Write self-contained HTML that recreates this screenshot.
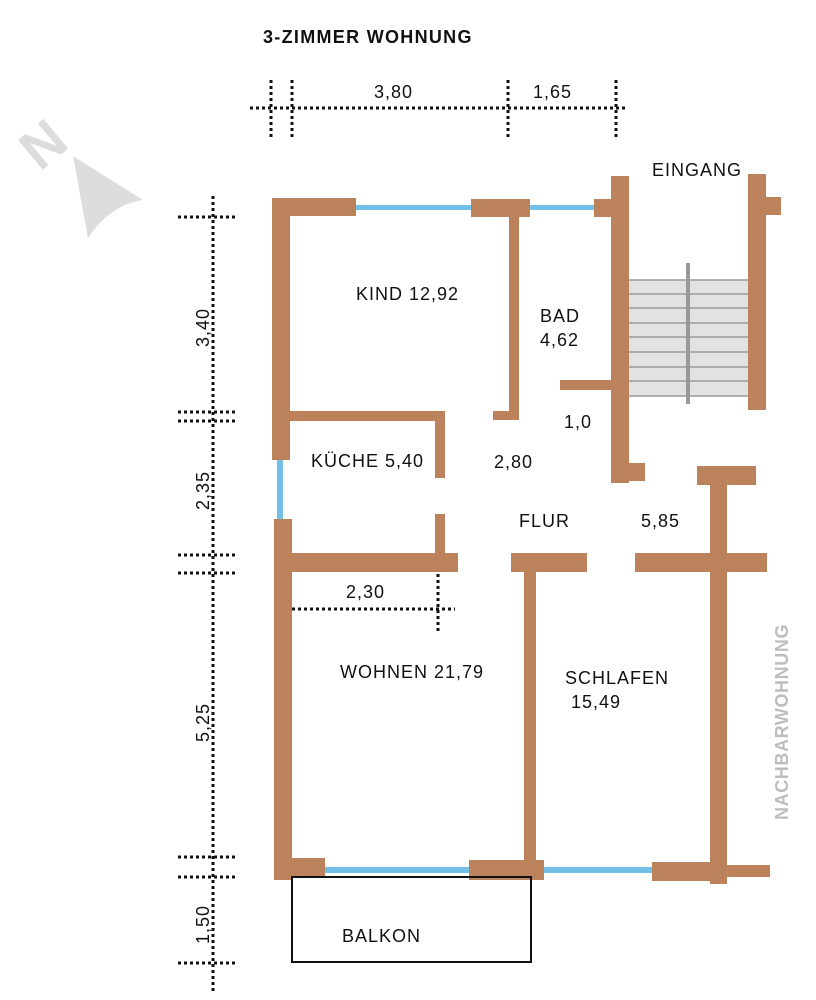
<!DOCTYPE html>
<html><head><meta charset="utf-8"><style>
html,body{margin:0;padding:0;background:#fff;}
svg{display:block;}
text{font-family:"Liberation Sans",sans-serif;fill:#111;font-size:18px;letter-spacing:1px;}
</style></head><body>
<svg width="816" height="1000" viewBox="0 0 816 1000" xmlns="http://www.w3.org/2000/svg">
<rect width="816" height="1000" fill="#fff"/>
<text x="263" y="43" style="font-weight:bold;font-size:18px;letter-spacing:1.3px">3-ZIMMER WOHNUNG</text>

<!-- north arrow -->
<text transform="translate(40,172) rotate(-40)" style="fill:#dcdcdc;font-size:56px;font-weight:bold;letter-spacing:0">N</text>
<path d="M73 156 L143 200 Q110 205 88 238 Z" fill="#dddddd"/>

<!-- dims -->
<g stroke="#111" stroke-width="3" stroke-dasharray="3 3" fill="none">
<line x1="250" y1="108" x2="625" y2="108"/>
<line x1="271" y1="80" x2="271" y2="140"/>
<line x1="292" y1="80" x2="292" y2="140"/>
<line x1="508" y1="80" x2="508" y2="140"/>
<line x1="616" y1="80" x2="616" y2="140"/>
<line x1="213" y1="196" x2="213" y2="992"/>
<line x1="178" y1="217" x2="238" y2="217"/>
<line x1="178" y1="412" x2="238" y2="412"/>
<line x1="178" y1="421" x2="238" y2="421"/>
<line x1="178" y1="555" x2="238" y2="555"/>
<line x1="178" y1="573" x2="238" y2="573"/>
<line x1="178" y1="857" x2="238" y2="857"/>
<line x1="178" y1="877" x2="238" y2="877"/>
<line x1="178" y1="963" x2="238" y2="963"/>
<line x1="292" y1="609" x2="455" y2="609"/>
<line x1="438" y1="574" x2="438" y2="632"/>
</g>
<text x="374" y="98">3,80</text>
<text x="533" y="98">1,65</text>
<text x="346" y="598">2,30</text>
<text transform="translate(209,347) rotate(-90)">3,40</text>
<text transform="translate(209,510) rotate(-90)">2,35</text>
<text transform="translate(209,742) rotate(-90)">5,25</text>
<text transform="translate(209,944) rotate(-90)">1,50</text>

<!-- stairs -->
<rect x="629" y="280" width="119" height="116" fill="#e2e2e2"/>
<g stroke="#999" stroke-width="1.5">
<line x1="629" y1="280" x2="748" y2="280"/><line x1="629" y1="294" x2="748" y2="294"/>
<line x1="629" y1="308" x2="748" y2="308"/><line x1="629" y1="323" x2="748" y2="323"/>
<line x1="629" y1="337" x2="748" y2="337"/><line x1="629" y1="352" x2="748" y2="352"/>
<line x1="629" y1="367" x2="748" y2="367"/><line x1="629" y1="381" x2="748" y2="381"/>
<line x1="629" y1="396" x2="748" y2="396"/>
</g>
<rect x="686" y="263" width="4" height="141" fill="#999"/>

<!-- windows -->
<g fill="#72bfe8">
<rect x="350" y="205" width="125" height="5"/>
<rect x="525" y="205" width="72" height="5"/>
<rect x="277" y="455" width="6" height="68"/>
<rect x="320" y="867" width="152" height="6"/>
<rect x="540" y="867" width="115" height="6"/>
</g>

<!-- walls -->
<g fill="#bb825c">
<rect x="274" y="198" width="82" height="18"/>
<rect x="272" y="198" width="18" height="262"/>
<rect x="471" y="199" width="59" height="18"/>
<rect x="509" y="217" width="10" height="203"/>
<rect x="493" y="411" width="26" height="9"/>
<rect x="594" y="199" width="18" height="18"/>
<rect x="611" y="176" width="18" height="307"/>
<rect x="629" y="463" width="16" height="18"/>
<rect x="560" y="380" width="51" height="10"/>
<rect x="748" y="174" width="18" height="236"/>
<rect x="766" y="197" width="15" height="18"/>
<rect x="290" y="411" width="155" height="10"/>
<rect x="435" y="411" width="10" height="67"/>
<rect x="435" y="514" width="10" height="40"/>
<rect x="274" y="519" width="18" height="361"/>
<rect x="290" y="553" width="168" height="19"/>
<rect x="511" y="553" width="76" height="19"/>
<rect x="524" y="572" width="12" height="290"/>
<rect x="635" y="553" width="132" height="19"/>
<rect x="697" y="466" width="59" height="19"/>
<rect x="710" y="485" width="17" height="399"/>
<rect x="274" y="858" width="51" height="19"/>
<rect x="469" y="860" width="75" height="20"/>
<rect x="652" y="862" width="75" height="19"/>
<rect x="727" y="865" width="43" height="12"/>
</g>
<rect x="292" y="877" width="239" height="85" fill="none" stroke="#111" stroke-width="2"/>

<!-- labels -->
<text x="652" y="176">EINGANG</text>
<text x="356" y="300">KIND 12,92</text>
<text x="540" y="322">BAD</text>
<text x="540" y="346">4,62</text>
<text x="564" y="428">1,0</text>
<text x="494" y="468">2,80</text>
<text x="311" y="467">KÜCHE 5,40</text>
<text x="519" y="527">FLUR</text>
<text x="641" y="527">5,85</text>
<text x="340" y="678">WOHNEN 21,79</text>
<text x="565" y="684">SCHLAFEN</text>
<text x="571" y="708">15,49</text>
<text x="342" y="942">BALKON</text>
<text transform="translate(788,820) rotate(-90)" style="fill:#bdbdbd;font-weight:bold;font-size:18px;letter-spacing:0.6px">NACHBARWOHNUNG</text>
</svg>
</body></html>
